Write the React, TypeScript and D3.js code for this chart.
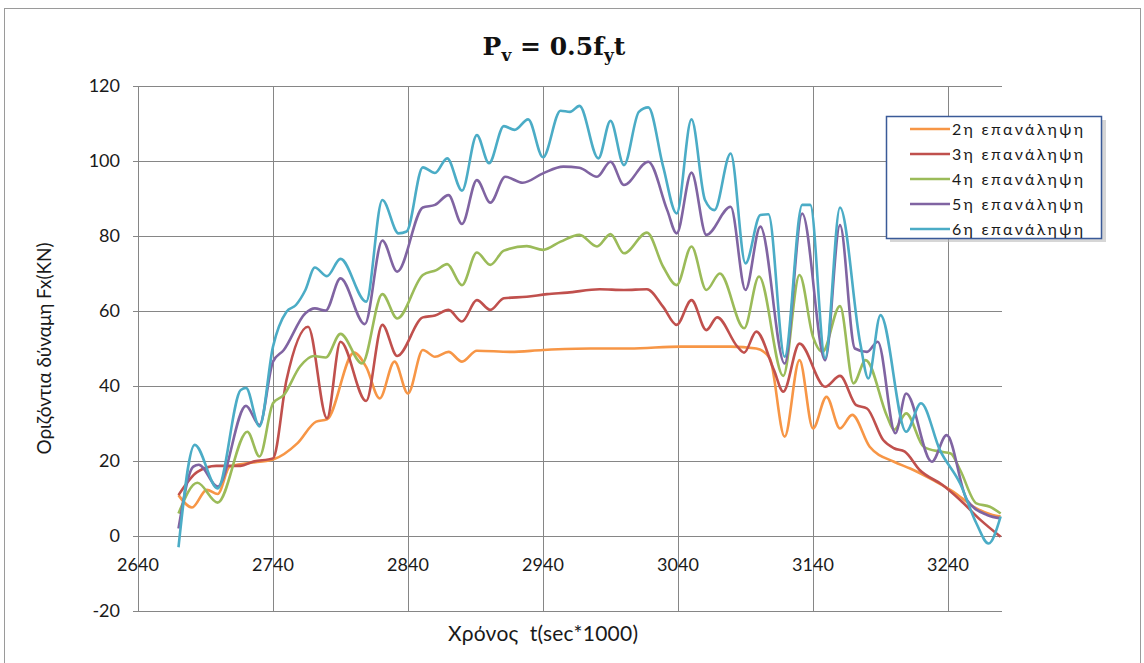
import React, { useEffect, useRef } from 'react';
import * as d3 from 'd3';

// time axis ticks (sec*1000) and force ticks (KN)
const xTicks = [2640, 2740, 2840, 2940, 3040, 3140, 3240];
const yTicks = [-20, 0, 20, 40, 60, 80, 100, 120];

const seriesNames = ['2η επανάληψη', '3η επανάληψη', '4η επανάληψη', '5η επανάληψη', '6η επανάληψη'];
const seriesColors = ['#F79646', '#C0504D', '#9BBB59', '#8064A2', '#4BACC6'];

const t2 = [2670, 2680, 2691, 2699, 2708, 2721, 2740, 2758, 2772, 2780, 2800, 2809, 2819, 2830, 2840, 2851, 2860, 2870, 2880, 2891, 2916, 2940, 2975, 3004, 3042, 3079, 3098, 3108, 3119, 3130, 3140, 3150, 3160, 3169, 3182, 3200, 3212, 3229, 3244, 3259, 3273, 3279];
const v2 = [10.9, 7.6, 12.3, 11.2, 18.5, 19.4, 20.4, 24.7, 30.5, 31.1, 48.9, 45.1, 36.7, 46.5, 38, 49.6, 47.8, 49.1, 46.5, 49.4, 49.1, 49.6, 50, 50, 50.5, 50.5, 50, 47.4, 26.5, 46.9, 28.7, 37.1, 28.7, 32.3, 23.8, 19.8, 18, 14.9, 11.8, 7.8, 5.6, 5.2];

const t3 = [2670, 2684, 2698, 2716, 2725, 2740, 2750, 2766, 2780, 2790, 2809, 2821, 2832, 2851, 2860, 2870, 2880, 2891, 2901, 2911, 2928, 2943, 2958, 2982, 3000, 3017, 3029, 3039, 3050, 3061, 3069, 3084, 3089, 3098, 3111, 3118, 3130, 3149, 3160, 3172, 3180, 3192, 3200, 3208, 3219, 3236, 3249, 3264, 3279];
const v3 = [10.9, 17.1, 18.7, 18.7, 19.8, 20.7, 41.6, 55.8, 31.4, 51.8, 36, 56.3, 48, 58.3, 58.8, 60.3, 57.2, 62.9, 60.3, 63.4, 63.8, 64.5, 64.9, 65.8, 65.6, 65.8, 61.1, 56.3, 62.9, 54.9, 58.3, 50.5, 48.9, 54.5, 44.3, 38.5, 51.3, 39.8, 42.7, 34.9, 34, 25.6, 23.4, 22.5, 17.6, 13.6, 9.6, 4.3, -0.2];

const t4 = [2670, 2684, 2699, 2721, 2730, 2740, 2748, 2760, 2770, 2779, 2790, 2806, 2821, 2832, 2851, 2861, 2869, 2880, 2891, 2901, 2911, 2928, 2940, 2953, 2967, 2980, 2990, 3000, 3017, 3029, 3039, 3050, 3061, 3071, 3089, 3100, 3118, 3130, 3140, 3147, 3160, 3170, 3179, 3195, 3200, 3209, 3222, 3234, 3242, 3249, 3261, 3271, 3279];
const v4 = [6, 14.2, 8.9, 27.8, 21.2, 35.4, 37.6, 45.2, 48, 47.6, 53.9, 46, 64.5, 58, 69.6, 70.9, 72.5, 66.9, 75.6, 72.3, 76.1, 77.3, 76.3, 78.5, 80.3, 77.2, 80.5, 75.4, 80.9, 71.8, 66.9, 77.2, 65.6, 70, 55.4, 69.2, 42.7, 69.6, 53.1, 49.1, 61.3, 40.7, 46.9, 31.8, 28.3, 32.7, 23.8, 22.5, 22, 17.6, 8.7, 7.8, 6];

const t5 = [2670, 2681, 2685, 2699, 2720, 2730, 2740, 2748, 2764, 2771, 2779, 2790, 2808, 2821, 2832, 2851, 2860, 2870, 2880, 2891, 2901, 2912, 2925, 2940, 2955, 2967, 2980, 2990, 3000, 3018, 3032, 3039, 3050, 3061, 3079, 3090, 3101, 3119, 3132, 3149, 3160, 3171, 3180, 3188, 3201, 3209, 3228, 3239, 3254, 3269, 3279];
const v5 = [2, 18.5, 19, 13.2, 34.7, 29.6, 46.5, 49.6, 59.4, 60.7, 60.1, 68.7, 56.5, 78.8, 70.5, 87.6, 88.3, 90.9, 83.2, 94.9, 88.9, 95.8, 94.2, 96.7, 98.5, 98.2, 95.8, 99.8, 93.6, 99.8, 86.9, 80.7, 96.9, 80.3, 87.8, 65.6, 82.5, 46, 86, 46.9, 82.9, 50, 49.1, 51.8, 27.4, 38, 19.8, 26.9, 9.6, 5.6, 4.7];

const t6 = [2670, 2682, 2699, 2716, 2720, 2730, 2740, 2750, 2757, 2764, 2771, 2780, 2790, 2809, 2821, 2833, 2839, 2851, 2860, 2869, 2880, 2891, 2900, 2911, 2919, 2929, 2940, 2953, 2960, 2967, 2981, 2990, 3000, 3011, 3018, 3029, 3039, 3050, 3060, 3067, 3079, 3090, 3101, 3107, 3119, 3132, 3138, 3149, 3160, 3175, 3181, 3190, 3209, 3220, 3234, 3249, 3261, 3270, 3279];
const v6 = [-3, 24.3, 12.7, 38.9, 39.5, 29.2, 50.5, 59.8, 61.6, 65.6, 71.6, 69.3, 73.9, 62.5, 89.6, 80.7, 81.2, 98.3, 96.8, 100.7, 92.1, 106.9, 99.4, 109.3, 108.3, 111.1, 101, 113.4, 113.1, 114.7, 100.7, 110.7, 98.9, 113.1, 114.3, 98.5, 86, 111.1, 89.6, 86.9, 102, 72.7, 85.6, 85.8, 47.8, 88.3, 88.3, 47.4, 87.6, 51.4, 42, 58.9, 27.8, 35.4, 22.9, 14, 3.4, -2, 5.2];

const seriesTimes = [t2, t3, t4, t5, t6];
const seriesValues = [v2, v3, v4, v5, v6];

const width = 1144;
const height = 663;
const font = 'Lato, "Open Sans", sans-serif';

export default function App() {
  const ref = useRef<SVGSVGElement>(null);

  useEffect(() => {
    const svg = d3.select(ref.current);
    svg.selectAll('*').remove();

    const x = d3.scaleLinear().domain([2640, 3280]).range([138, 1002]);
    const y = d3.scaleLinear().domain([-20, 120]).range([611, 86]);

    svg.append('rect').attr('width', width).attr('height', height).attr('fill', '#fff');
    svg.append('rect')
      .attr('x', 4.5).attr('y', 8.5).attr('width', 1136).attr('height', 660)
      .attr('fill', 'none').attr('stroke', '#9a9a9a').attr('stroke-width', 1);

    // grid (horizontal lines also carry the small outside ticks of the y axis)
    const grid = svg.append('g').attr('stroke', '#868686').attr('stroke-width', 1);
    grid.selectAll('line.h').data(yTicks).enter().append('line')
      .attr('x1', x(2640) - 5).attr('x2', x(3280))
      .attr('y1', d => Math.round(y(d)) + 0.5).attr('y2', d => Math.round(y(d)) + 0.5);
    grid.selectAll('line.v').data(xTicks).enter().append('line')
      .attr('y1', y(120)).attr('y2', y(-20))
      .attr('x1', d => Math.round(x(d)) + 0.5).attr('x2', d => Math.round(x(d)) + 0.5);

    // tick labels
    svg.append('g').selectAll('text').data(yTicks).enter().append('text')
      .attr('x', 120).attr('y', d => y(d)).attr('dy', '0.36em')
      .attr('text-anchor', 'end').attr('font-family', font).attr('font-size', 18).attr('fill', '#1a1a1a')
      .text(d => d);
    svg.append('g').selectAll('text').data(xTicks).enter().append('text')
      .attr('x', d => x(d)).attr('y', y(0) + 35)
      .attr('text-anchor', 'middle').attr('font-family', font).attr('font-size', 18).attr('fill', '#1a1a1a')
      .text(d => d);

    // lines
    const line = d3.line<[number, number]>()
      .x(d => x(d[0])).y(d => y(d[1]))
      .curve(d3.curveMonotoneX);
    seriesTimes.forEach((ts, i) => {
      const pts = ts.map((t, j) => [t, seriesValues[i][j]] as [number, number]);
      svg.append('path')
        .attr('d', line(pts))
        .attr('fill', 'none')
        .attr('stroke', seriesColors[i])
        .attr('stroke-width', 2.6)
        .attr('stroke-linejoin', 'round');
    });

    // title  P_v = 0.5 f_y t
    const title = svg.append('text')
      .attr('x', 554).attr('y', 55).attr('text-anchor', 'middle')
      .attr('font-family', '"DejaVu Serif", serif').attr('font-weight', 'bold')
      .attr('font-size', 25).attr('fill', '#111');
    title.append('tspan').text('P');
    title.append('tspan').attr('font-size', 17).attr('dy', 6).text('v');
    title.append('tspan').attr('dy', -6).text(' = 0.5f');
    title.append('tspan').attr('font-size', 17).attr('dy', 6).text('y');
    title.append('tspan').attr('dy', -6).text('t');

    // axis titles
    svg.append('text')
      .attr('transform', `translate(51,${(y(120) + y(-20)) / 2}) rotate(-90)`)
      .attr('text-anchor', 'middle').attr('font-family', font).attr('font-size', 19).attr('fill', '#1a1a1a')
      .attr('textLength', 212).attr('lengthAdjust', 'spacing')
      .text('Οριζόντια δύναμη Fx(KN)');
    svg.append('text')
      .attr('x', 543).attr('y', 641)
      .attr('text-anchor', 'middle').attr('font-family', font).attr('font-size', 21).attr('fill', '#1a1a1a')
      .attr('textLength', 190).attr('lengthAdjust', 'spacing')
      .style('white-space', 'pre')
      .text('Χρόνος  t(sec*1000)');

    // legend
    const lg = svg.append('g').attr('transform', 'translate(886,116)');
    lg.append('rect').attr('x', 4).attr('y', 4).attr('width', 216).attr('height', 122)
      .attr('fill', '#bbb').attr('opacity', 0.6);
    lg.append('rect').attr('x', 0.5).attr('y', 0.5).attr('width', 215).attr('height', 122)
      .attr('fill', '#fff').attr('stroke', '#3a5a98').attr('stroke-width', 1.5);
    seriesNames.forEach((name, i) => {
      const row = lg.append('g').attr('transform', `translate(0,${13 + i * 25})`);
      row.append('line').attr('x1', 24).attr('x2', 64).attr('y1', 0).attr('y2', 0)
        .attr('stroke', seriesColors[i]).attr('stroke-width', 2.6);
      row.append('text').attr('x', 66).attr('y', 0).attr('dy', '0.36em')
        .attr('font-family', font).attr('font-size', 16).attr('fill', '#1a1a1a')
        .attr('textLength', 131).attr('lengthAdjust', 'spacing')
        .text(name);
    });
  }, []);

  return (
    <svg ref={ref} width={width} height={height}
      style={{ position: 'absolute', left: 0, top: 0, display: 'block' }} />
  );
}
